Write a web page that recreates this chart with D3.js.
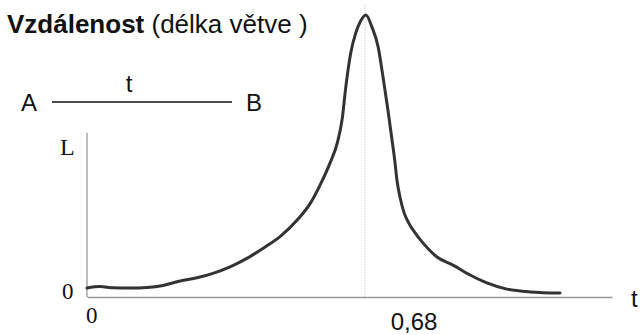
<!DOCTYPE html>
<html>
<head>
<meta charset="utf-8">
<script src="https://cdn.jsdelivr.net/npm/d3@7"></script>
<style>
  html, body { margin: 0; padding: 0; background: #fff; }
  svg { display: block; }
</style>
</head>
<body>
<svg id="chart" width="640" height="335"></svg>
<script>
// Likelihood L of the branch length t between A and B
const tValues = [0, 0.032, 0.064, 0.105, 0.147, 0.186, 0.228, 0.269, 0.308, 0.350,
  0.391, 0.431, 0.472, 0.514, 0.546, 0.570, 0.594, 0.612, 0.624, 0.633, 0.645,
  0.657, 0.668, 0.682, 0.697, 0.712, 0.724, 0.736, 0.746, 0.753, 0.758, 0.766,
  0.775, 0.787, 0.802, 0.822, 0.856, 0.895, 0.937, 0.978, 1.027, 1.084, 1.157];
const lValues = [0.032, 0.037, 0.033, 0.032, 0.034, 0.041, 0.057, 0.068, 0.084, 0.107,
  0.137, 0.173, 0.214, 0.273, 0.332, 0.397, 0.474, 0.546, 0.630, 0.745, 0.865,
  0.935, 0.975, 1.000, 0.957, 0.887, 0.780, 0.663, 0.557, 0.480, 0.415, 0.351,
  0.301, 0.262, 0.228, 0.191, 0.142, 0.113, 0.078, 0.050, 0.028, 0.018, 0.014];

const tMax = 1.284;       // right end of the t axis
const tOptimum = 0.68;    // maximum-likelihood branch length
const optimumLabel = "0,68";
const xOriginLabel = "0";
const yOriginLabel = "0";
const yAxisLabel = "L";
const xAxisLabel = "t";

const svg = d3.select("#chart");

const x = d3.scaleLinear().domain([0, tMax]).range([87, 612]);
const y = d3.scaleLinear().domain([0, 1]).range([297, 15]);

const sans = "'Liberation Sans', Arial, sans-serif";
const serif = "'Liberation Serif', 'Times New Roman', serif";

// Title
const title = svg.append("text")
  .attr("x", 7).attr("y", 33)
  .style("font-family", sans)
  .style("font-size", "26px")
  .attr("fill", "#111");
title.append("tspan").style("font-weight", "bold").text("Vzdálenost");
title.append("tspan").text(" (délka větve )");

// Branch sketch A —t— B
svg.append("text").attr("x", 21).attr("y", 111)
  .style("font-family", sans).style("font-size", "24px").attr("fill", "#111").text("A");
svg.append("line").attr("x1", 52).attr("x2", 232).attr("y1", 102).attr("y2", 102)
  .attr("stroke", "#111").attr("stroke-width", 1.6);
svg.append("text").attr("x", 129).attr("y", 92).attr("text-anchor", "middle")
  .style("font-family", sans).style("font-size", "24px").attr("fill", "#111").text("t");
svg.append("text").attr("x", 246).attr("y", 111)
  .style("font-family", sans).style("font-size", "24px").attr("fill", "#111").text("B");

// Faint guide at the optimum
svg.append("line")
  .attr("x1", x(tOptimum)).attr("x2", x(tOptimum))
  .attr("y1", 4).attr("y2", y(0))
  .attr("stroke", "#ccc").attr("stroke-width", 1)
  .attr("stroke-dasharray", "1,1");

// Axes (plain lines, no ticks)
const xAxis = d3.axisBottom(x).tickValues([]).tickSizeOuter(0);
const yAxis = d3.axisLeft(y).tickValues([]).tickSizeOuter(0);
const gx = svg.append("g").attr("transform", `translate(0,${y(0)})`).call(xAxis);
const gy = svg.append("g").attr("transform", `translate(${x(0)},0)`).call(yAxis);
gy.select(".domain").attr("d", `M0,133V${y(0)}`);
[gx, gy].forEach(g => g.select(".domain").attr("stroke", "#999").attr("stroke-width", 1.3));

// Axis labels
svg.append("text").attr("x", 60).attr("y", 155)
  .style("font-family", serif).style("font-size", "24px").attr("fill", "#111").text(yAxisLabel);
svg.append("text").attr("x", 62).attr("y", 299)
  .style("font-family", serif).style("font-size", "23px").attr("fill", "#111").text(yOriginLabel);
svg.append("text").attr("x", x(0) - 1).attr("y", 323)
  .style("font-family", serif).style("font-size", "23px").attr("fill", "#111").text(xOriginLabel);
svg.append("text").attr("x", x(tOptimum) + 49).attr("y", 330).attr("text-anchor", "middle")
  .style("font-family", sans).style("font-size", "24px").attr("fill", "#111").text(optimumLabel);
svg.append("text").attr("x", 631).attr("y", 307)
  .style("font-family", sans).style("font-size", "24px").attr("fill", "#111").text(xAxisLabel);

// Likelihood curve
const pts = tValues.map((t, i) => [t, lValues[i]]);
const line = d3.line()
  .x(d => x(d[0]))
  .y(d => y(d[1]))
  .curve(d3.curveMonotoneX);
svg.append("path")
  .attr("d", line(pts))
  .attr("fill", "none")
  .attr("stroke", "#333")
  .attr("stroke-width", 3)
  .attr("stroke-linejoin", "round")
  .attr("stroke-linecap", "round");
</script>
</body>
</html>
